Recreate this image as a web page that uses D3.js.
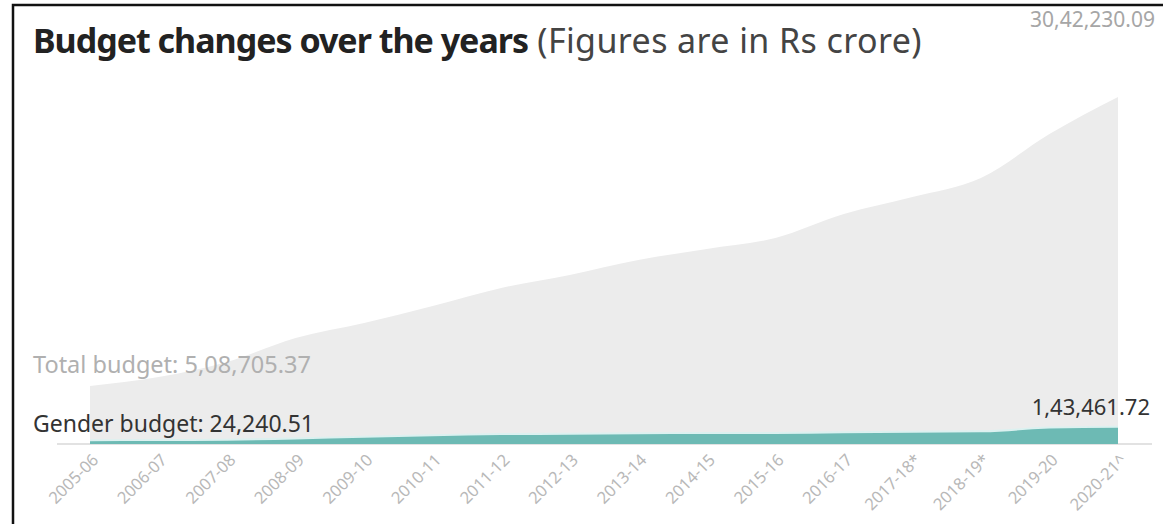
<!DOCTYPE html>
<html>
<head>
<meta charset="utf-8">
<script src="https://cdn.jsdelivr.net/npm/d3@7"></script>
<style>
  body { margin: 0; background: #fff; }
  svg { display: block; font-family: "Noto Sans", "Open Sans", sans-serif; }
</style>
</head>
<body>
<div id="chart"></div>
<script>
// years on the x axis
var years = ['2005-06', '2006-07', '2007-08', '2008-09', '2009-10', '2010-11', '2011-12', '2012-13',
    '2013-14', '2014-15', '2015-16', '2016-17', '2017-18*', '2018-19*', '2019-20', '2020-21^'];

// total budget, Rs crore (ends are labelled)
var totalBudget = [508705.37, 587000, 719000, 929000, 1061000, 1210000, 1368000, 1482000,
    1613000, 1710000, 1806000, 2016000, 2165000, 2332000, 2718000, 3042230.09];

// gender budget, Rs crore
var genderBudget = [24240.51, 26000, 29000, 40000, 55000, 68000, 78000, 82000,
    85000, 87000, 88000, 95000, 98000, 102000, 135000, 143461.72];

var W = 1163, H = 524;

var svg = d3.select('#chart')
    .append('svg')
    .attr('width', W)
    .attr('height', H);

// frame of the card
svg.append('rect')
    .attr('x', 13).attr('y', 5)
    .attr('width', W + 10).attr('height', H + 10)
    .attr('fill', '#fff')
    .attr('stroke', '#111')
    .attr('stroke-width', 2.5);

var x = d3.scalePoint()
    .domain(years)
    .range([90, 1118]);

var y = d3.scaleLinear()
    .domain([0, 3042230.09])
    .range([444, 97]);

var data = years.map(function(d, i) {
    return {year: d, total: totalBudget[i], gender: genderBudget[i]};
});

// baseline
svg.append('line')
    .attr('x1', 57).attr('x2', 1152)
    .attr('y1', y(0)).attr('y2', y(0))
    .attr('stroke', '#d9d9d9')
    .attr('stroke-width', 1.5);

var totalArea = d3.area()
    .x(d => x(d.year))
    .y0(y(0))
    .y1(d => y(d.total))
    .curve(d3.curveMonotoneX);

svg.append('path')
    .datum(data)
    .attr('fill', '#ececec')
    .attr('d', totalArea);

var genderArea = d3.area()
    .x(d => x(d.year))
    .y0(y(0))
    .y1(d => y(d.gender))
    .curve(d3.curveMonotoneX);

var genderLine = d3.line()
    .x(d => x(d.year))
    .y(d => y(d.gender))
    .curve(d3.curveMonotoneX);

// pale halo along the top of the gender band
svg.append('path')
    .datum(data)
    .attr('fill', 'none')
    .attr('stroke', '#dcf1f0')
    .attr('stroke-width', 4)
    .attr('d', genderLine);

svg.append('path')
    .datum(data)
    .attr('fill', '#6dbab4')
    .attr('d', genderArea);

// x axis labels only
var xAxis = d3.axisBottom(x).tickSize(0).tickPadding(0);
var gx = svg.append('g')
    .attr('transform', 'translate(0,' + y(0) + ')')
    .call(xAxis);
gx.select('.domain').remove();
gx.selectAll('text')
    .attr('font-family', '"Noto Sans", sans-serif')
    .attr('font-size', 16.5)
    .attr('fill', '#b8b8b8')
    .attr('text-anchor', 'end')
    .attr('dy', null)
    .attr('y', 0)
    .attr('transform', 'translate(9,17) rotate(-45)');

// title
var title = svg.append('text')
    .attr('x', 33)
    .attr('y', 53)
    .attr('font-size', 34)
    .attr('fill', '#222');
title.append('tspan')
    .attr('font-weight', 'bold')
    .attr('letter-spacing', -1)
    .text('Budget changes over the years');
title.append('tspan')
    .attr('fill', '#444')
    .attr('letter-spacing', 0.4)
    .text(' (Figures are in Rs crore)');

// end labels
svg.append('text')
    .attr('x', 1155).attr('y', 27)
    .attr('text-anchor', 'end')
    .attr('font-size', 21)
    .attr('fill', '#a6a6a6')
    .text('30,42,230.09');

svg.append('text')
    .attr('x', 33).attr('y', 373)
    .attr('font-size', 23.5)
    .attr('fill', '#b0b0b0')
    .text('Total budget: 5,08,705.37');

svg.append('text')
    .attr('x', 33).attr('y', 432)
    .attr('font-size', 23)
    .attr('fill', '#333')
    .text('Gender budget: 24,240.51');

svg.append('text')
    .attr('x', 1150).attr('y', 415)
    .attr('text-anchor', 'end')
    .attr('font-size', 22)
    .attr('fill', '#333')
    .text('1,43,461.72');
</script>
</body>
</html>
